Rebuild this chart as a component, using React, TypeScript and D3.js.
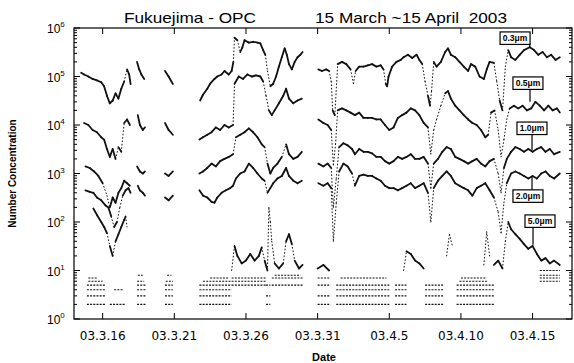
import React from 'react';
import * as d3 from 'd3';

// day numbers are days of March 2003 (32 = April 1)
const tickDays = [16, 21, 26, 31, 36, 41, 46];
const tickLabels = ['03.3.16', '03.3.21', '03.3.26', '03.3.31', '03.4.5', '03.4.10', '03.4.15'];
const decades = [0, 1, 2, 3, 4, 5, 6];

type Pt = [number, number];

const um03: Pt[][] = [
  [[14.5,1.2e5],[14.7,1.1e5],[15.0,1.0e5],[15.3,8.9e4],[15.6,8.3e4],[15.9,7.6e4],[16.1,6.3e4],[16.3,4.0e4],[16.5,2.8e4],[16.7,3.2e4],[16.9,4.5e4],[17.1,3.5e4],[17.3,5.6e4],[17.5,7.9e4],[17.7,1.4e5],[17.85,1.1e5],[17.95,7.0e4]],
  [[18.4,2.0e5],[18.55,1.4e5],[18.7,1.1e5],[18.9,8.9e4]],
  [[20.35,1.3e5],[20.6,1.0e5],[20.9,7.0e4]],
  [[22.8,3.2e4],[23.0,4.2e4],[23.3,5.6e4],[23.5,7.1e4],[23.8,8.9e4],[24.0,1.0e5],[24.3,1.1e5],[24.5,1.3e5],[24.8,1.1e5],[25.0,1.3e5],[25.12,2.0e5],[25.2,6.3e5],[25.4,5.6e5],[25.6,3.2e5],[25.75,4.0e5],[25.9,5.6e5],[26.2,5.0e5],[26.5,5.2e5],[26.8,5.0e5],[27.0,4.8e5],[27.2,3.5e5],[27.35,2.8e5],[27.5,1.3e5],[27.7,6.3e4],[27.9,7.1e4],[28.1,1.0e5],[28.3,1.6e5],[28.5,2.5e5],[28.7,3.8e5],[28.85,2.8e5],[29.0,1.8e5],[29.2,1.4e5],[29.4,2.0e5],[29.6,2.5e5],[29.8,2.8e5],[29.95,3.2e5]],
  [[31.05,1.4e5],[31.3,1.3e5],[31.6,1.4e5],[31.8,1.3e5],[31.95,7.9e4],[32.05,2.0e4],[32.2,1.6e4],[32.4,1.8e5],[32.7,2.0e5],[33.0,1.8e5],[33.3,1.4e5],[33.5,7.1e4],[33.65,1.3e5],[33.9,1.6e5],[34.2,1.6e5],[34.5,1.7e5],[34.8,1.8e5],[35.1,1.6e5],[35.4,1.7e5],[35.6,1.4e5],[35.75,7.1e4],[35.85,6.3e4],[35.95,1.0e5],[36.2,1.6e5],[36.5,2.0e5],[36.8,2.2e5],[37.0,2.5e5],[37.3,2.8e5],[37.6,2.4e5],[37.9,2.8e5],[38.1,2.2e5],[38.3,1.8e5],[38.5,7.9e4],[38.7,4.0e4],[38.85,2.5e4],[38.95,5.0e4],[39.1,2.0e5],[39.3,1.6e5],[39.6,2.0e5],[39.9,3.2e5],[40.1,3.8e5],[40.3,2.8e5],[40.6,2.5e5],[40.9,2.0e5],[41.2,1.6e5],[41.5,1.3e5],[41.7,1.8e5],[42.0,1.6e5],[42.3,1.0e5],[42.6,8.9e4],[42.8,1.4e5],[43.0,2.0e5],[43.3,1.9e5],[43.5,7.9e4],[43.7,3.2e4],[43.9,2.0e4],[44.1,1.6e5],[44.3,3.5e5],[44.5,2.5e5],[44.8,2.2e5],[45.1,2.8e5],[45.4,3.5e5],[45.8,4.0e5],[46.1,3.5e5],[46.4,2.8e5],[46.7,3.2e5],[47.0,2.5e5],[47.3,2.8e5],[47.6,2.2e5],[47.9,2.5e5]],
];

const um05: Pt[][] = [
  [[14.7,1.1e4],[15.0,1.0e4],[15.3,7.9e3],[15.6,7.1e3],[15.9,5.6e3],[16.1,5.0e3],[16.3,3.2e3],[16.5,2.2e3],[16.7,3.2e3],[16.9,2.0e3],[17.1,3.5e3],[17.3,2.8e3],[17.5,1.1e4],[17.7,1.3e4],[17.9,1.0e4]],
  [[18.45,1.6e4],[18.6,1.0e4],[18.8,7.9e3],[18.95,8.9e3]],
  [[20.35,1.1e4],[20.6,7.9e3],[20.9,6.3e3]],
  [[22.75,5.0e3],[23.0,5.6e3],[23.3,6.3e3],[23.6,7.1e3],[23.9,8.9e3],[24.2,7.9e3],[24.5,1.0e4],[24.8,8.9e3],[25.1,1.0e4],[25.2,7.1e4],[25.5,1.0e5],[25.8,8.9e4],[26.1,1.1e5],[26.4,1.0e5],[26.7,1.05e5],[27.0,1.0e5],[27.2,7.9e4],[27.4,4.0e4],[27.6,2.0e4],[27.8,1.6e4],[28.0,2.0e4],[28.3,2.8e4],[28.6,4.0e4],[28.8,5.6e4],[29.0,3.5e4],[29.3,2.8e4],[29.6,3.2e4],[29.9,3.5e4]],
  [[31.05,1.3e4],[31.4,1.1e4],[31.7,1.0e4],[31.95,7.9e3],[32.1,1.5e3],[32.25,4.0e3],[32.4,2.0e4],[32.7,2.2e4],[33.0,2.0e4],[33.3,1.8e4],[33.6,1.6e4],[33.9,1.8e4],[34.2,1.4e4],[34.5,1.4e4],[34.8,1.4e4],[35.1,1.3e4],[35.4,1.3e4],[35.7,1.0e4],[36.0,7.9e3],[36.3,8.9e3],[36.6,1.4e4],[36.9,1.6e4],[37.2,1.8e4],[37.5,2.2e4],[37.8,2.0e4],[38.1,1.6e4],[38.4,1.1e4],[38.7,8.9e3],[38.9,2.5e3],[39.1,7.9e3],[39.3,1.3e4],[39.6,2.5e4],[39.9,4.5e4],[40.1,5.0e4],[40.3,3.5e4],[40.6,2.5e4],[40.9,2.0e4],[41.2,1.6e4],[41.5,1.3e4],[41.8,1.1e4],[42.1,1.0e4],[42.4,7.9e3],[42.7,5.6e3],[42.9,6.3e3],[43.1,1.8e4],[43.35,2.0e4],[43.6,7.9e3],[43.8,2.2e3],[44.0,5.0e3],[44.2,1.3e4],[44.4,2.2e4],[44.7,2.5e4],[45.0,2.2e4],[45.3,2.5e4],[45.6,2.0e4],[45.9,2.2e4],[46.2,3.0e4],[46.5,2.5e4],[46.8,2.0e4],[47.1,2.5e4],[47.4,2.0e4],[47.7,2.2e4],[47.9,1.8e4]],
];

const um10: Pt[][] = [
  [[14.8,1.4e3],[15.1,1.3e3],[15.4,1.1e3],[15.7,8.9e2],[16.0,6.3e2],[16.3,3.5e2],[16.5,2.0e2],[16.7,3.2e2],[16.9,2.5e2],[17.1,4.0e2],[17.3,5.0e2],[17.5,7.1e2],[17.7,6.3e2],[17.9,5.6e2]],
  [[18.4,1.4e3],[18.6,1.1e3],[18.8,1.0e3],[18.95,1.1e3]],
  [[20.35,1.0e3],[20.6,8.9e2],[20.9,1.1e3]],
  [[22.75,1.0e3],[23.0,1.1e3],[23.3,1.3e3],[23.6,1.6e3],[23.9,1.4e3],[24.2,1.8e3],[24.5,2.0e3],[24.8,2.2e3],[25.1,2.5e3],[25.3,5.6e3],[25.6,6.3e3],[25.9,7.1e3],[26.2,8.5e3],[26.5,7.1e3],[26.8,5.6e3],[27.1,4.0e3],[27.3,3.5e3],[27.5,1.6e3],[27.7,1.0e3],[27.9,1.3e3],[28.2,1.6e3],[28.5,2.2e3],[28.8,4.0e3],[29.0,2.5e3],[29.3,2.0e3],[29.6,2.2e3],[29.9,2.8e3]],
  [[31.05,1.6e3],[31.4,1.4e3],[31.7,1.6e3],[31.95,1.3e3],[32.1,2.0e2],[32.3,7.9e2],[32.5,3.5e3],[32.8,4.2e3],[33.1,3.8e3],[33.4,3.2e3],[33.6,2.5e3],[33.9,3.2e3],[34.2,2.8e3],[34.5,2.8e3],[34.8,2.6e3],[35.1,2.2e3],[35.4,2.2e3],[35.7,1.8e3],[36.0,1.6e3],[36.3,1.8e3],[36.6,2.2e3],[36.9,2.0e3],[37.2,2.2e3],[37.5,2.5e3],[37.8,2.0e3],[38.1,2.0e3],[38.4,2.2e3],[38.7,1.6e3],[38.9,5.0e2],[39.1,1.6e3],[39.4,2.0e3],[39.7,2.8e3],[40.0,3.5e3],[40.3,3.2e3],[40.6,2.2e3],[40.9,2.0e3],[41.2,1.8e3],[41.5,1.6e3],[41.8,1.8e3],[42.1,2.0e3],[42.4,1.6e3],[42.7,1.4e3],[43.0,1.8e3],[43.3,2.0e3],[43.6,1.0e3],[43.8,4.0e2],[44.0,1.3e3],[44.2,2.0e3],[44.5,2.8e3],[44.8,3.5e3],[45.1,3.2e3],[45.4,2.8e3],[45.7,3.2e3],[46.0,2.8e3],[46.3,3.2e3],[46.6,3.5e3],[46.9,2.8e3],[47.2,3.2e3],[47.5,2.5e3],[47.9,2.8e3]],
];

const um20: Pt[][] = [
  [[14.8,4.5e2],[15.1,4.2e2],[15.35,4.0e2],[15.6,3.2e2],[15.9,2.8e2],[16.2,2.2e2],[16.4,2.0e2],[16.6,1.3e2],[16.8,7.9e1],[17.0,1.0e2],[17.2,2.0e2],[17.4,3.5e2],[17.6,4.5e2],[17.8,5.0e2],[17.95,4.0e2]],
  [[18.45,5.6e2],[18.6,4.5e2],[18.8,4.0e2],[18.95,3.5e2]],
  [[20.35,3.2e2],[20.6,2.8e2],[20.9,3.5e2]],
  [[22.75,4.5e2],[23.0,3.5e2],[23.3,3.2e2],[23.6,2.6e2],[23.8,2.5e2],[24.0,3.2e2],[24.3,4.0e2],[24.6,4.5e2],[24.9,5.0e2],[25.1,5.6e2],[25.3,7.9e2],[25.6,1.0e3],[25.9,1.1e3],[26.2,1.6e3],[26.5,1.3e3],[26.8,1.0e3],[27.1,7.9e2],[27.3,7.1e2],[27.5,4.0e2],[27.7,5.0e2],[27.9,6.3e2],[28.2,7.9e2],[28.5,8.9e2],[28.8,1.3e3],[29.0,8.9e2],[29.3,7.1e2],[29.6,6.3e2],[29.9,7.1e2]],
  [[31.05,6.3e2],[31.4,5.6e2],[31.7,6.3e2],[31.95,5.0e2],[32.1,4.0e1],[32.3,2.5e2],[32.5,1.1e3],[32.8,1.6e3],[33.1,1.4e3],[33.4,1.0e3],[33.6,5.6e2],[33.9,8.9e2],[34.2,9.5e2],[34.5,8.9e2],[34.8,8.9e2],[35.1,7.9e2],[35.4,7.1e2],[35.7,5.6e2],[36.0,5.0e2],[36.3,5.0e2],[36.6,4.5e2],[36.9,5.0e2],[37.2,5.6e2],[37.5,6.3e2],[37.8,5.0e2],[38.1,5.6e2],[38.4,6.3e2],[38.7,4.0e2],[38.9,1.0e2],[39.1,5.0e2],[39.4,7.1e2],[39.7,8.9e2],[40.0,1.1e3],[40.3,8.9e2],[40.6,6.3e2],[40.9,5.6e2],[41.2,5.0e2],[41.5,4.5e2],[41.8,3.5e2],[42.1,5.0e2],[42.4,5.6e2],[42.7,6.3e2],[43.0,4.5e2],[43.3,3.2e2],[43.6,1.6e2],[43.8,6.0e1],[44.0,2.5e2],[44.2,6.3e2],[44.5,1.0e3],[44.8,1.1e3],[45.1,1.0e3],[45.4,8.9e2],[45.7,7.9e2],[46.0,8.9e2],[46.3,7.9e2],[46.6,1.0e3],[46.9,1.1e3],[47.2,8.9e2],[47.5,7.9e2],[47.9,1.0e3]],
];

const um50: Pt[][] = [
  [[15.35,1.9e2],[15.6,1.4e2],[15.9,1.0e2],[16.1,7.9e1],[16.3,5.9e1],[16.5,3.2e1],[16.7,2.0e1],[16.9,4.0e1],[17.1,5.6e1],[17.3,7.9e1],[17.5,1.1e2],[17.6,1.3e2],[17.7,7.9e1]],
  [[25.0,1.0e1],[25.2,3.2e1],[25.4,2.0e1],[25.7,1.4e1],[26.0,1.6e1],[26.3,2.2e1],[26.6,1.6e1],[26.9,2.0e1],[27.1,3.0e1],[27.3,1.6e1],[27.5,1.0e1],[27.6,2.0e2],[27.7,1.0e2],[27.8,4.0e1],[28.0,1.4e1],[28.3,1.1e1],[28.6,1.4e1],[28.8,4.0e1],[29.0,5.6e1],[29.2,3.5e1],[29.4,1.6e1],[29.7,1.1e1],[29.95,1.3e1]],
  [[31.0,1.1e1],[31.4,1.3e1],[31.8,1.0e1]],
  [[37.0,1.0e1],[37.2,2.5e1],[37.5,2.2e1],[37.8,1.6e1],[38.1,1.4e1],[38.4,1.1e1]],
  [[40.0,2.0e1],[40.2,5.6e1],[40.4,3.2e1]],
  [[42.6,1.3e1],[42.8,6.3e1],[43.0,2.0e1]],
  [[43.3,1.3e1],[43.6,1.6e1],[43.9,1.1e1],[44.1,4.0e1],[44.3,1.0e2],[44.5,7.1e1],[44.8,5.6e1],[45.1,4.5e1],[45.4,3.5e1],[45.7,2.8e1],[46.0,3.2e1],[46.3,2.2e1],[46.6,1.6e1],[46.9,1.8e1],[47.2,1.4e1],[47.5,1.6e1],[47.9,1.3e1]],
];

// runs of low (counted) 5.0um values: [from day, to day, concentration]
const lowRuns: [number, number, number][] = [
  [14.9,16.2,2],[14.9,16.2,3],[14.9,16.2,4],[14.9,16.2,5],[15.0,16.0,6],[15.0,15.6,7],
  [16.5,17.6,2],[16.8,17.4,4],
  [18.4,19.0,2],[18.4,19.0,3],[18.4,19.0,4],[18.4,19.0,5],[18.4,18.9,6],[18.45,18.8,8],
  [20.35,20.9,2],[20.35,20.9,3],[20.35,20.9,4],[20.35,20.9,5],[20.4,20.9,6],[20.5,20.8,8],
  [22.75,25.0,2],[22.75,25.0,3],[22.75,25.0,4],[22.75,25.0,5],[23.0,25.0,6],[23.5,24.8,7],
  [25.0,27.4,5],[25.0,27.4,6],[25.0,27.4,7],
  [27.4,27.7,2],[27.4,27.7,3],[27.4,27.7,5],
  [27.8,30.0,5],[27.8,30.0,7],[28.0,29.8,8],
  [31.0,31.9,2],[31.0,31.9,3],[31.0,31.9,5],[31.0,31.9,7],
  [32.3,36.0,2],[32.3,36.0,3],[32.3,36.0,4],[32.3,36.0,5],[32.6,35.8,7],
  [36.4,37.2,2],[36.4,37.2,3],[36.4,37.2,4],[36.4,37.2,5],
  [38.5,39.8,2],[38.5,39.8,3],[38.5,39.8,4],[38.5,39.8,5],
  [40.7,43.3,2],[40.7,43.3,3],[40.7,43.3,4],[40.7,43.3,5],[40.9,42.9,6],[41.0,42.8,7],
  [46.5,47.9,6],[46.5,47.9,7],[46.5,47.9,8],[46.5,47.9,10],
];

// label boxes: text, box left day, box top value, arrow day, arrow base value, arrow tip value
const sizeLabels: [string, number, number, number, number, number][] = [
  ['0.3\u03bcm', 43.73, 8.3e5, 45.8, 4.9e5, 3.9e5],
  ['0.5\u03bcm', 44.63, 9.8e4, 45.82, 5.6e4, 3.0e4],
  ['1.0\u03bcm', 44.91, 1.15e4, 45.96, 6.5e3, 3.0e3],
  ['2.0\u03bcm', 44.63, 4.6e2, 45.96, 4.6e2, 8.5e2],
  ['5.0\u03bcm', 45.47, 1.4e2, 46.03, 7.7e1, 3.4e1],
];

const W = 574;
const H = 363;
const L = 74, R = 572, T = 28, B = 319;

const toDate = (d: number) => new Date(Date.UTC(2003, 2, 1) + (d - 1) * 864e5);

const App = () => {
  const x = d3.scaleUtc().domain([toDate(14), toDate(48.75)]).range([L, R]);
  const y = d3.scaleLog().domain([1, 1e6]).range([B, T]);
  const xd = (d: number) => x(toDate(d));

  const minor: number[] = [];
  decades.slice(0, -1).forEach((e) => {
    for (let k = 2; k < 10; k++) minor.push(k * Math.pow(10, e));
  });

  const series = [um03, um05, um10, um20, um50];

  // steep jumps are only a few scattered samples in the original, so draw them dotted
  const pieces: { x1: number; y1: number; x2: number; y2: number; steep: boolean }[] = [];
  series.forEach((s) =>
    s.forEach((seg) =>
      d3.pairs(seg).forEach(([a, b]) => {
        const x1 = xd(a[0]), y1 = y(a[1]), x2 = xd(b[0]), y2 = y(b[1]);
        const steep = Math.abs(y2 - y1) > 10 && Math.abs(y2 - y1) > 2.5 * Math.abs(x2 - x1);
        pieces.push({ x1, y1, x2, y2, steep });
      })
    )
  );

  return (
    <svg width={W} height={H} style={{ position: 'absolute', left: 0, top: 0, background: '#fff' }}>
      <text x={124} y={23} fontFamily="Liberation Sans, Arial" fontSize={14.5} textLength={132} lengthAdjust="spacingAndGlyphs">
        Fukuejima - OPC
      </text>
      <text x={315} y={23} fontFamily="Liberation Sans, Arial" fontSize={14.5} textLength={192} lengthAdjust="spacingAndGlyphs" style={{ whiteSpace: 'pre' }}>
        {'15 March ~15 April  2003'}
      </text>

      {/* data */}
      <g fill="none" stroke="#111" strokeLinecap="round">
        {pieces.map((p, i) => (
          <line
            key={i}
            x1={p.x1}
            y1={p.y1}
            x2={p.x2}
            y2={p.y2}
            strokeWidth={p.steep ? 1 : 1.8}
            strokeDasharray={p.steep ? '0.8 2.6' : undefined}
          />
        ))}
      </g>
      <g stroke="#111" strokeWidth={1.1} strokeDasharray="2 1.2">
        {lowRuns.map((r, i) => (
          <line key={i} x1={xd(r[0])} x2={xd(r[1])} y1={y(r[2])} y2={y(r[2])} />
        ))}
      </g>

      {/* frame */}
      <rect x={L} y={T} width={R - L} height={B - T} fill="none" stroke="#000" strokeWidth={1.2} />
      <g stroke="#000" strokeWidth={1}>
        {decades.map((e) => (
          <g key={e}>
            <line x1={L} x2={L + 6} y1={y(Math.pow(10, e))} y2={y(Math.pow(10, e))} />
            <line x1={R} x2={R - 6} y1={y(Math.pow(10, e))} y2={y(Math.pow(10, e))} />
          </g>
        ))}
        {minor.map((v) => (
          <g key={v}>
            <line x1={L} x2={L + 3} y1={y(v)} y2={y(v)} />
            <line x1={R} x2={R - 3} y1={y(v)} y2={y(v)} />
          </g>
        ))}
        {tickDays.map((d) => (
          <g key={d}>
            <line x1={xd(d)} x2={xd(d)} y1={B} y2={B - 6} />
            <line x1={xd(d)} x2={xd(d)} y1={T} y2={T + 6} />
          </g>
        ))}
      </g>

      {/* axis labels */}
      <g fontFamily="DejaVu Sans" fontSize={12} textAnchor="middle">
        {tickDays.map((d, i) => (
          <text key={d} x={xd(d)} y={340}>
            {tickLabels[i]}
          </text>
        ))}
      </g>
      <g fontFamily="Liberation Sans, Arial" fontSize={12}>
        {decades.map((e) => (
          <text key={e} x={47} y={y(Math.pow(10, e)) + 5}>
            10
            <tspan fontSize={8} dy={-6}>
              {e}
            </tspan>
          </text>
        ))}
      </g>
      <text x={324} y={361} fontFamily="Liberation Sans, Arial" fontSize={11} fontWeight="bold" textAnchor="middle">
        Date
      </text>
      <text
        transform={`translate(16, ${(T + B) / 2}) rotate(-90)`}
        fontFamily="Liberation Sans, Arial"
        fontSize={10}
        fontWeight="bold"
        textAnchor="middle"
      >
        Number Concentration
      </text>

      {/* size labels */}
      {sizeLabels.map(([t, d, v, ad, av, tv]) => {
        const bx = xd(d);
        const by = y(v);
        return (
          <g key={t}>
            <line x1={xd(ad)} y1={y(av)} x2={xd(ad)} y2={y(tv)} stroke="#000" strokeWidth={1.2} />
            <rect x={bx} y={by} width={30} height={12.5} fill="#fff" stroke="#000" strokeWidth={1.2} />
            <text x={bx + 15} y={by + 9.2} fontFamily="Liberation Sans, Arial" fontSize={8.5} fontWeight="bold" textAnchor="middle">
              {t}
            </text>
          </g>
        );
      })}
    </svg>
  );
};

export default App;
